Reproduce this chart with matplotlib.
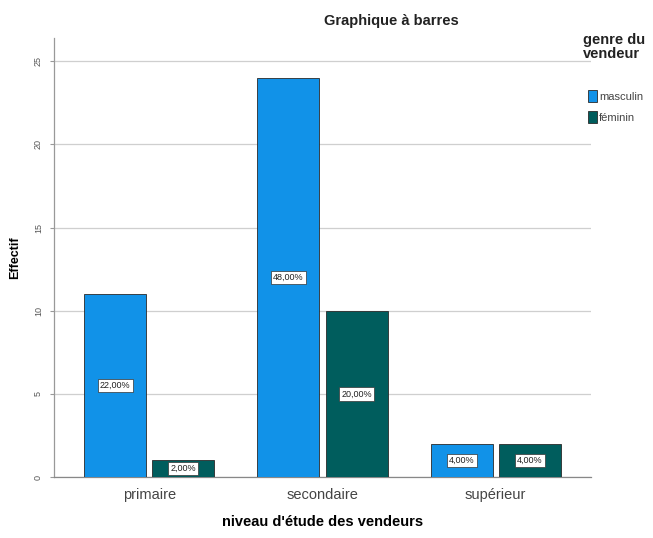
import matplotlib
matplotlib.use("Agg")
import matplotlib.pyplot as plt
import numpy as np

plt.rcParams['font.family'] = ['Liberation Sans', 'DejaVu Sans']

categories = ["primaire", "secondaire", "supérieur"]
series_names = ["masculin", "féminin"]
masculin = [11, 24, 2]
feminin = [1, 10, 2]
pct_masculin = ["22,00%", "48,00%", "4,00%"]
pct_feminin = ["2,00%", "20,00%", "4,00%"]
yticks = [0, 5, 10, 15, 20, 25]

colors = ["#1192e8", "#005d5d"]

fig = plt.figure(figsize=(6.53, 5.38), dpi=100)
ax = fig.add_axes([54/653, 1-477/538, (591-54)/653, (477-38)/538])

x = np.arange(len(categories))
w = 0.358
off = 0.197
series = [masculin, feminin]
pcts = [pct_masculin, pct_feminin]
for i, (vals, labs) in enumerate(zip(series, pcts)):
    pos = x + (-off if i == 0 else off)
    bars = ax.bar(pos, vals, width=w, color=colors[i], edgecolor="#2a2a2a",
                  linewidth=0.6, zorder=3, label=series_names[i])
    for b, lab in zip(bars, labs):
        ax.text(b.get_x() + b.get_width()/2, b.get_height()/2, lab,
                ha="center", va="center", fontsize=6.5, color="#222222", zorder=5,
                bbox=dict(boxstyle="square,pad=0.25", fc="white", ec="#333333", lw=0.5))

ax.set_xlim(-0.55, 2.55)
ax.set_ylim(0, 26.4)
ax.set_yticks(yticks)
ax.set_yticklabels([str(t) for t in yticks], rotation=90, va="center",
                   fontsize=6.5, color="#555555")
ax.set_xticks(x)
ax.set_xticklabels(categories, fontsize=10.5, color="#444444")
ax.tick_params(axis="x", length=0, pad=8)
ax.tick_params(axis="y", length=3, color="#999999", pad=5)
ax.grid(axis="y", color="#cfcfcf", linewidth=0.9, zorder=0)
ax.set_axisbelow(True)
for s in ["top", "right"]:
    ax.spines[s].set_visible(False)
ax.spines["left"].set_color("#999999")
ax.spines["bottom"].set_color("#888888")
ax.spines["left"].set_linewidth(0.9)
ax.spines["bottom"].set_linewidth(0.9)

ax.set_ylabel("Effectif", fontsize=9, fontweight="bold", labelpad=9)
ax.set_xlabel("niveau d'étude des vendeurs", fontsize=10.5, fontweight="bold", labelpad=9)

fig.text(391/653, 1-21/538, "Graphique à barres", ha="center", va="center",
         fontsize=10.5, fontweight="bold", color="#222222")

fig.text(583/653, 1-47/538, "genre du\nvendeur", ha="left", va="center",
         fontsize=10.5, fontweight="bold", color="#222222", linespacing=0.95)

leg = fig.legend(loc="upper left", bbox_to_anchor=(588/653, 1-90/538),
                 fontsize=8, frameon=False,
                 handlelength=0.85, handleheight=1.25, handletextpad=0.15,
                 labelspacing=0.85, borderaxespad=0, borderpad=0)
for t in leg.get_texts():
    t.set_color("#444444")

fig.savefig("out.png", dpi=100)
